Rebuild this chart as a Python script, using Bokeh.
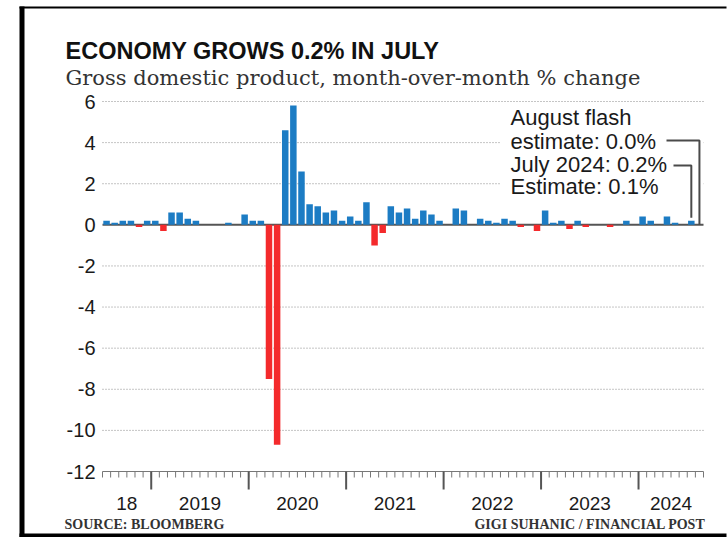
from bokeh.plotting import figure
from bokeh.models import Range1d
from bokeh.core.properties import value
from bokeh.embed import file_html
from bokeh.resources import INLINE

# ---------------- data ----------------
years = [2018, 2019, 2020, 2021, 2022, 2023, 2024]
months = ([f"2018-{m:02d}" for m in range(7, 13)] +
          [f"{y}-{m:02d}" for y in range(2019, 2024) for m in range(1, 13)] +
          [f"2024-{m:02d}" for m in range(1, 9)])
gdp_change = [
    0.2, 0.1, 0.2, 0.2, -0.1, 0.2,                                  # 2018 Jul-Dec
    0.2, -0.3, 0.6, 0.6, 0.3, 0.2, 0.0, 0.0, 0.0, 0.1, 0.0, 0.5,    # 2019
    0.2, 0.2, -7.5, -10.7, 4.6, 5.8, 2.6, 1.0, 0.9, 0.6, 0.7, 0.2,  # 2020
    0.4, 0.2, 1.1, -1.0, -0.4, 0.9, 0.6, 0.8, 0.3, 0.7, 0.5, 0.2,   # 2021
    0.0, 0.8, 0.7, 0.0, 0.3, 0.2, 0.1, 0.3, 0.2, -0.1, 0.0, -0.3,   # 2022
    0.7, 0.1, 0.2, -0.2, 0.2, -0.1, 0.0, 0.0, -0.1, 0.0, 0.2, 0.0,  # 2023
    0.4, 0.2, 0.0, 0.4, 0.1, 0.0, 0.2, 0.0,                          # 2024 Jan-Aug
]
year_labels = ["18", "2019", "2020", "2021", "2022", "2023", "2024"]
y_ticks = [-12, -10, -8, -6, -4, -2, 0, 2, 4, 6]
y_tick_labels = ["-12", "-10", "-8", "-6", "-4", "-2", "0", "2", "4", "6"]
title_text = "ECONOMY GROWS 0.2% IN JULY"
subtitle_text = "Gross domestic product, month-over-month % change"
note_lines = ["August flash", "estimate: 0.0%", "July 2024: 0.2%", "Estimate: 0.1%"]
source_text = "SOURCE: BLOOMBERG"
credit_text = "GIGI SUHANIC / FINANCIAL POST"

BLUE = "#1c7cc4"
RED = "#f42a2c"
FONT = "Liberation Sans"

n = len(months)

# ---------------- canvas geometry (pixels) ----------------
W, H = 727, 537
PX_X0, PX_X1 = 102, 703       # left / right edge of the month axis
PX_Y6, PX_Y12 = 101, 471      # pixel rows of y=6 and y=-12
sx = (PX_X1 - PX_X0) / n
sy = (PX_Y12 - PX_Y6) / 18.0
x_start = -PX_X0 / sx
x_end = n + (W - PX_X1) / sx
y_end = 6 + PX_Y6 / sy
y_start = -12 - (H - PX_Y12) / sy


def X(px):
    return x_start + px / sx


def Y(py):
    return y_end - py / sy


p = figure(width=W, height=H, output_backend="svg", toolbar_location=None,
           x_range=Range1d(x_start, x_end), y_range=Range1d(y_start, y_end),
           x_axis_location=None, y_axis_location=None,
           min_border=0, min_border_left=0, min_border_right=0,
           min_border_top=0, min_border_bottom=0)
p.outline_line_color = None
p.grid.visible = False
p.background_fill_color = "white"
p.border_fill_color = "white"

# dotted gridlines
grid_vals = [t for t in y_ticks if t not in (0, -12)]
p.segment(x0=[0] * len(grid_vals), x1=[n] * len(grid_vals), y0=grid_vals, y1=grid_vals,
          line_color="#8a8a8a", line_width=1, line_dash="1 2")

# y tick labels
p.text(x=[X(95)] * len(y_ticks), y=y_ticks, text=y_tick_labels,
       text_font=value(FONT), text_font_size="20px", text_align="right",
       text_baseline="middle", text_color="#1a1a1a")

# x axis line and ticks
p.segment(x0=[0], x1=[n], y0=[-12], y1=[-12], line_color="#777777", line_width=1)
minor = list(range(n + 1))
p.segment(x0=minor, x1=minor, y0=[-12] * len(minor), y1=[Y(PX_Y12 + 6)] * len(minor),
          line_color="#777777", line_width=1)
jan_idx = [i for i, m in enumerate(months) if m.endswith("-01")]
p.segment(x0=jan_idx, x1=jan_idx, y0=[-12] * len(jan_idx), y1=[Y(PX_Y12 + 18)] * len(jan_idx),
          line_color="#555555", line_width=2)

# year labels
centers = []
for y in years:
    idx = [i for i, m in enumerate(months) if m.startswith(str(y))]
    centers.append((idx[0] + idx[-1] + 1) / 2)
p.text(x=centers, y=[Y(503)] * len(centers), text=year_labels,
       text_font=value(FONT), text_font_size="19px", text_align="center",
       text_baseline="alphabetic", text_color="#1a1a1a")

# zero line
p.segment(x0=[0], x1=[n], y0=[0], y1=[0], line_color="#555555", line_width=2)

# bars
xs = [i + 0.5 for i in range(n)]
colors = [RED if v < 0 else BLUE for v in gdp_change]
p.vbar(x=xs, top=gdp_change, bottom=0, width=0.8, fill_color=colors, line_color=None)

# white box behind the note
jul_i = months.index("2024-07")
aug_i = months.index("2024-08")
p.quad(left=[X(500)], right=[n], bottom=[Y(197)], top=[Y(105)],
       fill_color="white", line_color=None)

# note text
note_px = [117, 140.5, 163.5, 186]
p.text(x=[X(510)] * 4, y=[Y(v) for v in note_px], text=note_lines, text_font=value(FONT),
       text_font_size="22px", text_baseline="middle", text_align="left",
       text_color="#1a1a1a")

# leader lines
p.line(x=[X(666), aug_i + 0.5, aug_i + 0.5], y=[Y(140), Y(140), gdp_change[aug_i]],
       line_color="#4a4a4a", line_width=2)
p.line(x=[X(673), jul_i + 0.5, jul_i + 0.5], y=[Y(165), Y(165), gdp_change[jul_i] + 0.15],
       line_color="#4a4a4a", line_width=2)

# titles
p.text(x=[X(65)], y=[Y(50)], text=[title_text], text_font=value(FONT),
       text_font_style="bold", text_font_size="23.5px", text_color="#111111",
       text_baseline="alphabetic")
p.text(x=[X(65)], y=[Y(77)], text=[subtitle_text], text_font=value("DejaVu Serif"),
       text_font_size="21px", text_color="#333333", text_baseline="alphabetic")

# source / credit
p.text(x=[X(64)], y=[Y(524)], text=[source_text], text_font=value("Liberation Serif"),
       text_font_style="bold", text_font_size="14px", text_color="#333333",
       text_baseline="alphabetic")
p.text(x=[X(705)], y=[Y(524)], text=[credit_text], text_font=value("Liberation Serif"),
       text_font_style="bold", text_font_size="14px", text_color="#333333",
       text_baseline="alphabetic", text_align="right")

# black frame around the graphic (left, top and bottom edges) drawn as thick lines
p.segment(x0=[X(21.5)], x1=[X(21.5)], y0=[Y(6)], y1=[Y(H)],
          line_color="black", line_width=5)
p.segment(x0=[X(19)], x1=[X(W - 1)], y0=[Y(7)], y1=[Y(7)],
          line_color="black", line_width=2)
p.segment(x0=[X(19)], x1=[X(W - 1)], y0=[Y(535)], y1=[Y(535)],
          line_color="black", line_width=4)

open("out.html", "w").write(file_html(p, INLINE))
